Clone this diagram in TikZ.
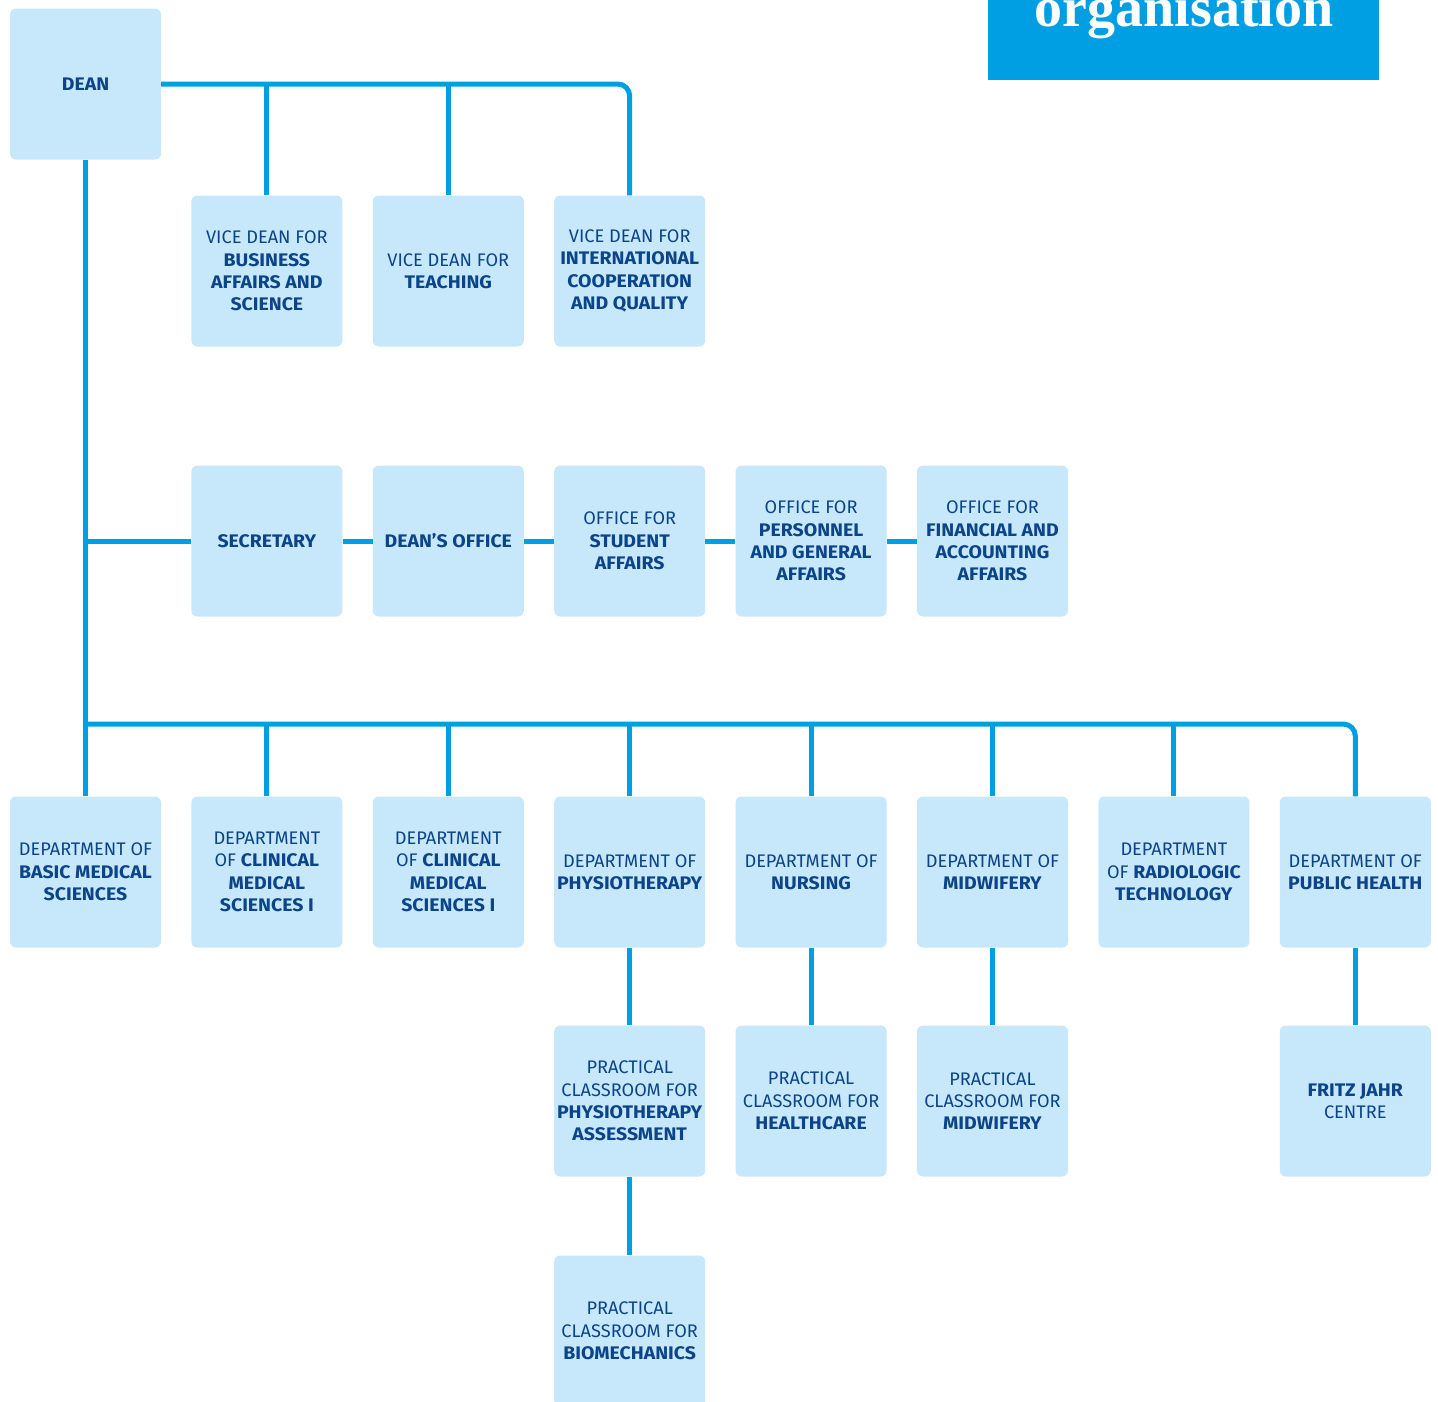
\documentclass[tikz,border=0pt]{standalone}
\usepackage{fontspec}
\setmainfont{Fira Sans}[BoldFeatures={FakeStretch=1.07}]
\newfontfamily\titlefont{Liberation Serif}
\definecolor{linec}{RGB}{0,159,227}
\definecolor{boxc}{RGB}{198,232,250}
\definecolor{txtc}{RGB}{12,68,138}
\begin{document}
\begin{tikzpicture}[x=1pt,y=-1pt,
  unit/.style={fill=boxc, rounded corners=6pt, minimum width=151pt, minimum height=151pt,
    inner sep=0pt, align=center, text=txtc, font=\fontsize{18.2}{22.3}\selectfont},
  conn/.style={draw=linec, line width=5pt},
  ]
\useasboundingbox (0,0) rectangle (1438,1401);
% title
\fill[linec] (988,-10) rectangle (1379,80);
\node[anchor=base, text=white, font=\titlefont\bfseries\fontsize{56}{56}\selectfont, inner sep=0pt] (title) at (1184,26) {organisation};

% row 1
\node[unit] (dean) at (85.5,84) {\textbf{DEAN}};
\node[unit] (vd1) at (266.9,271) {VICE DEAN FOR\\\textbf{BUSINESS}\\\textbf{AFFAIRS AND}\\\textbf{SCIENCE}};
\node[unit] (vd2) at (448.3,271) {VICE DEAN FOR\\\textbf{TEACHING}};
\node[unit] (vd3) at (629.7,271) {VICE DEAN FOR\\\textbf{INTERNATIONAL}\\\textbf{COOPERATION}\\\textbf{AND QUALITY}};
% offices
\node[unit] (sec) at (266.9,541) {\textbf{SECRETARY}};
\node[unit] (doff) at (448.3,541) {\textbf{DEAN’S OFFICE}};
\node[unit] (osa) at (629.7,541) {OFFICE FOR\\\textbf{STUDENT}\\\textbf{AFFAIRS}};
\node[unit] (opg) at (811.1,541) {OFFICE FOR\\\textbf{PERSONNEL}\\\textbf{AND GENERAL}\\\textbf{AFFAIRS}};
\node[unit] (ofa) at (992.5,541) {OFFICE FOR\\\textbf{FINANCIAL AND}\\\textbf{ACCOUNTING}\\\textbf{AFFAIRS}};
% departments
\node[unit] (dbms) at (85.5,872) {DEPARTMENT OF\\\textbf{BASIC MEDICAL}\\\textbf{SCIENCES}};
\node[unit] (dcm1) at (266.9,872) {DEPARTMENT\\OF \textbf{CLINICAL}\\\textbf{MEDICAL}\\\textbf{SCIENCES I}};
\node[unit] (dcm2) at (448.3,872) {DEPARTMENT\\OF \textbf{CLINICAL}\\\textbf{MEDICAL}\\\textbf{SCIENCES I}};
\node[unit] (dphy) at (629.7,872) {DEPARTMENT OF\\\textbf{PHYSIOTHERAPY}};
\node[unit] (dnur) at (811.1,872) {DEPARTMENT OF\\\textbf{NURSING}};
\node[unit] (dmid) at (992.5,872) {DEPARTMENT OF\\\textbf{MIDWIFERY}};
\node[unit] (drad) at (1173.9,872) {DEPARTMENT\\OF \textbf{RADIOLOGIC}\\\textbf{TECHNOLOGY}};
\node[unit] (dph) at (1355.3,872) {DEPARTMENT OF\\\textbf{PUBLIC HEALTH}};
% practical classrooms
\node[unit] (pcpa) at (629.7,1101) {PRACTICAL\\CLASSROOM FOR\\\textbf{PHYSIOTHERAPY}\\\textbf{ASSESSMENT}};
\node[unit] (pch) at (811.1,1101) {PRACTICAL\\CLASSROOM FOR\\\textbf{HEALTHCARE}};
\node[unit] (pcm) at (992.5,1101) {PRACTICAL\\CLASSROOM FOR\\\textbf{MIDWIFERY}};
\node[unit] (fjc) at (1355.3,1101) {\textbf{FRITZ JAHR}\\CENTRE};
\node[unit] (pcb) at (629.7,1331) {PRACTICAL\\CLASSROOM FOR\\\textbf{BIOMECHANICS}};

% connectors
\draw[conn, rounded corners=12pt] (dean.east) -- (vd3.north |- dean.east) -- (vd3.north);
\draw[conn] (vd1.north) -- (vd1.north |- dean.east);
\draw[conn] (vd2.north) -- (vd2.north |- dean.east);
\draw[conn] (dean.south) -- (dbms.north);
\draw[conn] (sec.west) -- (sec.west -| dean.south);
\draw[conn] (sec.east) -- (doff.west);
\draw[conn] (doff.east) -- (osa.west);
\draw[conn] (osa.east) -- (opg.west);
\draw[conn] (opg.east) -- (ofa.west);
\coordinate (bus) at (85.5,724);
\draw[conn, rounded corners=12pt] (bus) -- (bus -| dph.north) -- (dph.north);
\foreach \n in {dcm1,dcm2,dphy,dnur,dmid,drad}
  \draw[conn] (\n.north) -- (\n.north |- bus);
\draw[conn] (dphy.south) -- (pcpa.north);
\draw[conn] (pcpa.south) -- (pcb.north);
\draw[conn] (dnur.south) -- (pch.north);
\draw[conn] (dmid.south) -- (pcm.north);
\draw[conn] (dph.south) -- (fjc.north);
\end{tikzpicture}
\end{document}
